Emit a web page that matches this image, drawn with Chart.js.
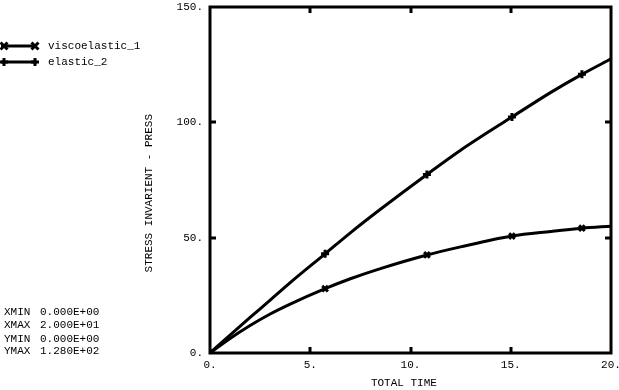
<!DOCTYPE html>
<html>
<head>
<meta charset="utf-8">
<script src="https://cdn.jsdelivr.net/npm/chart.js@4/dist/chart.umd.min.js"></script>
<style>
html,body{margin:0;padding:0;background:#fff;}
#wrap{position:relative;width:619px;height:390px;}
</style>
</head>
<body>
<div id="wrap"><canvas id="c" width="619" height="390"></canvas></div>
<script>
// ---- data ----
const times        = [0, 1, 2, 3, 4, 5.74, 7, 8.5, 10.82, 12.5, 15.06, 17, 18.55, 20];
const viscoelastic = [0, 6.3, 11.9, 16.9, 21.2, 27.9, 32.2, 36.6, 42.5, 46.0, 50.7, 52.7, 54.1, 55.0];
const elastic      = [0, 7.8, 15.4, 22.9, 30.5, 43.0, 52.1, 62.3, 77.4, 87.9, 102.3, 113.0, 120.8, 127.5];
const markerIdx    = [0, 5, 8, 10, 12];
const seriesNames  = ['viscoelastic_1', 'elastic_2'];
const xTicks       = [0, 5, 10, 15, 20];
const yTicks       = [0, 50, 100, 150];
const infoLabels   = ['XMIN', 'XMAX', 'YMIN', 'YMAX'];
const infoValues   = ['0.000E+00', '2.000E+01', '0.000E+00', '1.280E+02'];
const xTitle = 'TOTAL TIME';
const yTitle = 'STRESS INVARIENT - PRESS';

const FONT = 'Liberation Mono, DejaVu Sans Mono, monospace';

function pts(ys){ return times.map((t,i)=>({x:t,y:ys[i]})); }
function radii(r){ return times.map((t,i)=>markerIdx.includes(i)?r:0); }

function drawMarker(ctx, style, x, y, r){
  ctx.beginPath();
  if(style==='crossRot'){
    ctx.moveTo(x-r,y-r); ctx.lineTo(x+r,y+r);
    ctx.moveTo(x-r,y+r); ctx.lineTo(x+r,y-r);
  } else {
    ctx.moveTo(x-r,y); ctx.lineTo(x+r,y);
    ctx.moveTo(x,y-r); ctx.lineTo(x,y+r);
  }
  ctx.stroke();
}

const framePlugin = {
  id:'frame',
  afterDatasetsDraw(chart){
    const ctx = chart.ctx, a = chart.chartArea;
    const xs = chart.scales.x, ys = chart.scales.y;
    ctx.save();
    ctx.strokeStyle='#000'; ctx.lineWidth=3; ctx.lineCap='butt';
    ctx.strokeRect(a.left, a.top, a.right-a.left, a.bottom-a.top);
    const L=6;
    ctx.beginPath();
    xTicks.slice(1,-1).forEach(v=>{
      const px = Math.round(xs.getPixelForValue(v));
      ctx.moveTo(px,a.bottom); ctx.lineTo(px,a.bottom-L);
      ctx.moveTo(px,a.top); ctx.lineTo(px,a.top+L);
    });
    yTicks.slice(1,-1).forEach(v=>{
      const py = Math.round(ys.getPixelForValue(v));
      ctx.moveTo(a.left,py); ctx.lineTo(a.left+L,py);
      ctx.moveTo(a.right,py); ctx.lineTo(a.right-L,py);
    });
    ctx.stroke();
    ctx.restore();
  },
  afterDraw(chart){
    const ctx = chart.ctx;
    ctx.save();
    ctx.fillStyle='#000'; ctx.strokeStyle='#000';
    ctx.font = '11px '+FONT;
    ctx.textBaseline='middle'; ctx.textAlign='left';
    // legend
    chart.data.datasets.forEach((ds,i)=>{
      const y = 46 + 16*i;
      ctx.lineWidth=3;
      ctx.beginPath(); ctx.moveTo(1,y); ctx.lineTo(37,y); ctx.stroke();
      drawMarker(ctx, ds.pointStyle, 4, y, ds.pointStyle==='crossRot'?3.5:4);
      drawMarker(ctx, ds.pointStyle, 35, y, ds.pointStyle==='crossRot'?3.5:4);
      ctx.fillText(ds.label, 48, y);
    });
    // info block
    const rows=[312,325,339,351];
    infoLabels.forEach((l,i)=>{
      ctx.fillText(l, 4, rows[i]);
      ctx.fillText(infoValues[i], 40, rows[i]);
    });
    ctx.restore();
  }
};

const tickFont = {family:FONT, size:11};

new Chart(document.getElementById('c'), {
  type:'scatter',
  data:{
    datasets:[
      {label:seriesNames[0], data:pts(viscoelastic), showLine:true, borderColor:'#000', backgroundColor:'#000',
       borderWidth:3, pointStyle:'crossRot', pointRadius:radii(4), pointBorderWidth:3, pointHoverRadius:0,
       cubicInterpolationMode:'monotone'},
      {label:seriesNames[1], data:pts(elastic), showLine:true, borderColor:'#000', backgroundColor:'#000',
       borderWidth:3, pointStyle:'cross', pointRadius:radii(4), pointBorderWidth:3, pointHoverRadius:0,
       cubicInterpolationMode:'monotone'}
    ]
  },
  options:{
    responsive:false, animation:false, events:[],
    layout:{padding:{left:140, right:8, top:2, bottom:0}},
    plugins:{legend:{display:false}, tooltip:{enabled:false}},
    scales:{
      x:{type:'linear', min:0, max:20,
         afterBuildTicks:s=>{s.ticks = xTicks.map(v=>({value:v}));},
         ticks:{callback:v=>v+'.', font:tickFont, color:'#000', padding:5, maxRotation:0},
         grid:{display:false, drawTicks:false}, border:{display:false},
         title:{display:true, text:xTitle+'  ', font:tickFont, color:'#000', padding:{top:4,bottom:0}},
         afterFit:s=>{s.height=37; s.paddingLeft=0; s.paddingRight=0;}},
      y:{type:'linear', min:0, max:150,
         afterBuildTicks:s=>{s.ticks = yTicks.map(v=>({value:v}));},
         ticks:{callback:v=>v+'.', font:tickFont, color:'#000', padding:7},
         grid:{display:false, drawTicks:false}, border:{display:false},
         title:{display:true, text:yTitle+'    ', font:tickFont, color:'#000', padding:{top:2,bottom:0}},
         afterFit:s=>{s.width=70; s.paddingTop=0; s.paddingBottom=0;}}
    }
  },
  plugins:[framePlugin]
});
</script>
</body>
</html>
